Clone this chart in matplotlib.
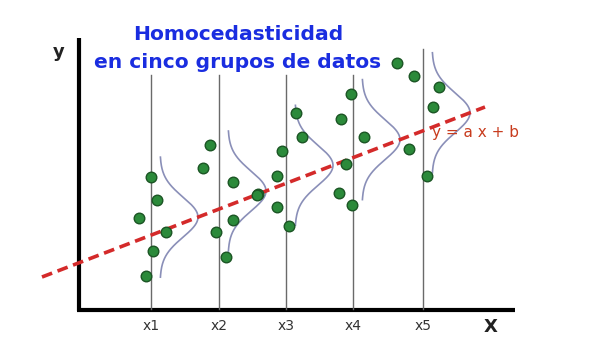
import matplotlib.pyplot as plt
import numpy as np

# --- layout in image-like units (x to the right, y downwards) ---
GROUP_LABELS = ["x1", "x2", "x3", "x4", "x5"]
GROUP_X = [151, 219, 286, 353, 423]
GROUP_TOP = [75, 75, 75, 75, 49]

# green observations per group
pts_x = [
    151, 157, 139, 166, 153, 146,
    210, 203, 233, 258, 233, 216, 226,
    296, 302, 282, 277, 257, 277, 289,
    351, 341, 364, 346, 339, 352,
    397, 414, 439, 433, 409, 427,
]
pts_y = [
    177, 200, 218, 232, 251, 276,
    145, 168, 182, 194, 220, 232, 257,
    113, 137, 151, 176, 195, 207, 226,
    94, 119, 137, 164, 193, 205,
    63, 76, 87, 107, 149, 176,
]

# regression line y = a x + b (end points)
LINE_X = [42, 485]
LINE_Y = [277, 107]

# bell curves: offset from group line, peak height, spread
BELL_OFFSET = 9
BELL_PEAK = 38
BELL_SIGMA = 20

COLOR_TITLE = "#1a2de0"
COLOR_RED = "#d42a2a"
COLOR_EQ = "#c83c1e"
COLOR_DOT = "#2b8a3a"
COLOR_DOT_EDGE = "#1b5524"
COLOR_BELL = "#8a8fb8"

fig = plt.figure(figsize=(6.13, 3.62), dpi=100)
ax = fig.add_axes([0, 0, 1, 1])
ax.set_xlim(0, 613)
ax.set_ylim(362, 0)
ax.axis("off")

# axes of the sketch
ax.plot([78.5, 78.5], [38, 311], color="black", lw=3, solid_capstyle="butt")
ax.plot([77, 515], [310, 310], color="black", lw=3, solid_capstyle="butt")

# group verticals
for gx, top in zip(GROUP_X, GROUP_TOP):
    ax.plot([gx, gx], [top, 309], color="#6a6a6a", lw=1.0)

# bell curves centred on the regression line
slope = (LINE_Y[1] - LINE_Y[0]) / (LINE_X[1] - LINE_X[0])
for gx in GROUP_X:
    base = gx + BELL_OFFSET
    peak_x = base + BELL_PEAK
    cy = LINE_Y[0] + slope * (peak_x - LINE_X[0])
    yy = np.linspace(cy - 3 * BELL_SIGMA, cy + 3 * BELL_SIGMA, 200)
    xx = base + BELL_PEAK * np.exp(-0.5 * ((yy - cy) / BELL_SIGMA) ** 2)
    ax.plot(xx, yy, color=COLOR_BELL, lw=1.2)

# regression line
ax.plot(LINE_X, LINE_Y, color=COLOR_RED, lw=2.6, dashes=(3, 1.6), zorder=4)

# data points
ax.scatter(pts_x, pts_y, s=58, color=COLOR_DOT, edgecolor=COLOR_DOT_EDGE,
           linewidth=1.0, zorder=5)

# labels
for gx, lab in zip(GROUP_X, GROUP_LABELS):
    ax.text(gx, 326, lab, ha="center", va="center", fontsize=10, color="#333333")
ax.text(491, 327, "X", ha="center", va="center", fontsize=13,
        fontweight="bold", color="#222222")
ax.text(59, 52, "y", ha="center", va="center", fontsize=13,
        fontweight="bold", color="#222222")
ax.text(432, 133, "y = a x + b", ha="left", va="center", fontsize=11,
        color=COLOR_EQ)

ax.text(238, 35, "Homocedasticidad", ha="center", va="center", fontsize=14.6,
        fontweight="bold", color=COLOR_TITLE)
ax.text(238, 62, "en cinco grupos de datos", ha="center", va="center",
        fontsize=14.6, fontweight="bold", color=COLOR_TITLE)

fig.savefig("out.png", dpi=100)
